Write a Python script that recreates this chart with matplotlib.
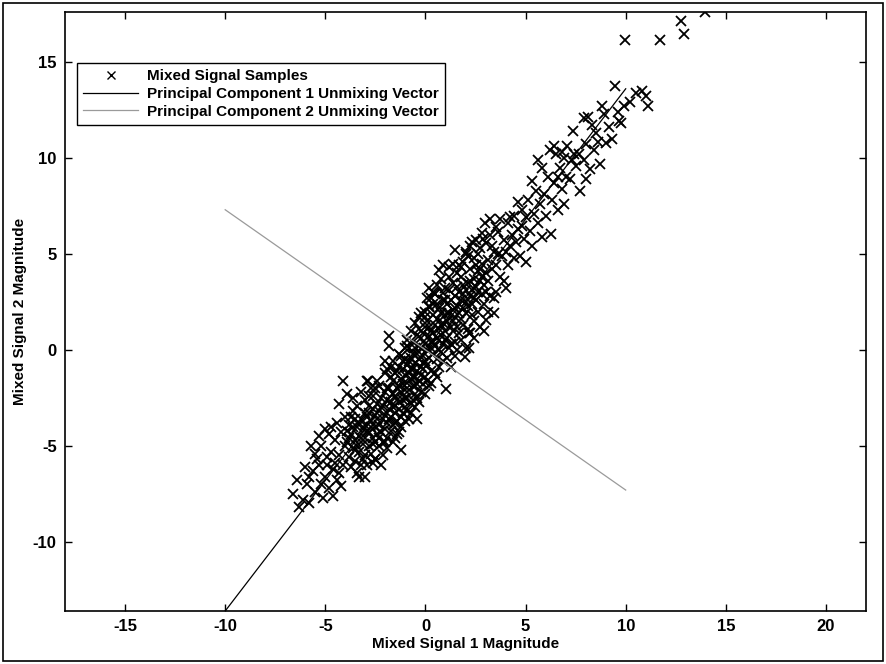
import matplotlib
matplotlib.use("Agg")
import matplotlib.pyplot as plt
from matplotlib.patches import Rectangle

plt.rcParams['font.family'] = ['Liberation Sans', 'DejaVu Sans']
plt.rcParams['axes.unicode_minus'] = False

# mixed signal samples, lower tail of the cloud
tail_pts = [
    (-6.3, -8.2), (-6.1, -7.8), (-5.8, -8.0), (-5.9, -7.0), (-6.4, -6.8), (-5.5, -7.4),
    (-5.2, -7.0), (-4.8, -7.2), (-5.0, -6.6), (-5.6, -6.3), (-5.3, -6.0), (-5.7, -5.0),
    (-5.2, -5.0), (-5.0, -4.1), (-4.9, -5.6), (-4.6, -6.2), (-4.4, -6.8), (-4.7, -5.3),
    (-4.5, -4.7), (-4.3, -5.5), (-4.1, -6.0), (-4.2, -4.3), (-4.4, -3.8), (-4.8, -4.4),
    (-5.4, -5.7), (-6.0, -6.1), (-4.6, -7.6), (-5.1, -7.7), (-4.0, -5.0), (-4.1, -1.6),
    (-4.3, -6.4), (-5.5, -5.4), (-4.9, -6.0), (-6.6, -7.5), (-4.2, -7.1), (-5.8, -6.6),
    (-4.7, -4.0), (-5.3, -4.5), (-4.5, -5.9), (-4.0, -3.5),
]

# dense centre of the cloud
core_pts = [
    (-3.9, -4.8), (-3.8, -5.6), (-3.8, -3.9), (-3.7, -4.4), (-3.7, -6.1), (-3.6, -5.1),
    (-3.6, -3.2), (-3.5, -4.7), (-3.5, -5.8), (-3.4, -4.0), (-3.4, -2.9), (-3.3, -5.3),
    (-3.3, -4.5), (-3.2, -3.6), (-3.2, -6.0), (-3.1, -4.9), (-3.1, -4.1), (-3.0, -3.3),
    (-3.0, -5.5), (-3.0, -2.6), (-3.9, -4.2), (-3.6, -4.0), (-3.4, -5.0), (-3.2, -4.6),
    (-3.5, -3.6), (-3.8, -4.6), (-3.1, -5.7), (-3.3, -3.8),
    (-2.9, -4.2), (-2.9, -3.5), (-2.8, -5.0), (-2.8, -2.9), (-2.8, -4.3), (-2.7, -3.7),
    (-2.7, -5.4), (-2.6, -4.6), (-2.6, -3.1), (-2.6, -2.4), (-2.5, -4.0), (-2.5, -5.7),
    (-2.5, -3.4), (-2.4, -4.4), (-2.4, -2.8), (-2.3, -3.9), (-2.3, -5.0), (-2.3, -3.2),
    (-2.2, -4.3), (-2.2, -2.5), (-2.1, -3.6), (-2.1, -4.8), (-2.1, -2.9), (-2.0, -3.4),
    (-2.0, -4.1), (-2.0, -2.2), (-2.9, -1.6), (-2.54, -5.7), (-2.7, -4.0), (-2.4, -3.6),
    (-2.2, -3.0), (-2.6, -4.9), (-2.8, -3.3), (-2.3, -1.9), (-2.87, -1.6),
    (-1.9, -3.8), (-1.9, -2.6), (-1.9, -4.6), (-1.8, -3.1), (-1.8, 0.7), (-1.8, 0.2),
    (-1.8, -2.0), (-1.7, -3.5), (-1.7, -4.2), (-1.7, -2.7), (-1.6, -3.0), (-1.6, -1.6),
    (-1.6, -3.9), (-1.54, -4.57), (-1.5, -2.4), (-1.5, -3.3), (-1.4, -2.0), (-1.4, -3.7),
    (-1.4, -1.1), (-1.3, -2.7), (-1.3, -3.1), (-1.3, -0.9), (-1.2, -2.2), (-1.2, -3.5),
    (-1.2, -1.5), (-1.1, -2.6), (-1.1, -1.8), (-1.1, -0.6), (-1.0, -2.1), (-1.0, -3.0),
    (-1.0, -1.3), (-1.9, -2.0), (-1.7, -1.4), (-1.5, -2.9), (-1.3, -1.9), (-1.1, -3.3),
    (-1.6, -2.3), (-1.4, -2.6), (-1.2, -0.3), (-1.0, -0.5),
    (-0.9, -1.7), (-0.9, -2.5), (-0.9, -0.8), (-0.8, -1.2), (-0.8, -2.1), (-0.8, 0.1),
    (-0.7, -1.5), (-0.7, -2.8), (-0.7, -0.4), (-0.6, -1.0), (-0.6, -1.9), (-0.6, 0.4),
    (-0.5, -0.7), (-0.5, -1.4), (-0.5, -2.3), (-0.4, -0.2), (-0.4, -1.1), (-0.4, 0.8),
    (-0.3, -0.5), (-0.3, -1.6), (-0.3, 0.2), (-0.2, -0.9), (-0.2, 0.6), (-0.2, -1.3),
    (-0.1, -0.3), (-0.1, 0.9), (-0.1, -1.0), (0.0, 0.3), (0.0, -0.6), (0.0, 1.2),
    (-0.9, 0.5), (-0.6, -0.2), (-0.4, -1.8), (-0.2, 0.1), (0.0, -1.4), (-0.7, -1.0),
    (-0.5, 0.1), (-0.3, 1.1),
    (0.1, 0.0), (0.1, -0.8), (0.1, 1.5), (0.2, 0.7), (0.2, 2.3), (0.2, -0.4),
    (0.3, 0.4), (0.3, 1.0), (0.3, -1.1), (0.4, 0.9), (0.4, -0.2), (0.4, 1.8),
    (0.5, 0.2), (0.5, 1.3), (0.5, 2.9), (0.6, 0.6), (0.6, -0.5), (0.6, 1.6),
    (0.7, 1.1), (0.7, 2.2), (0.7, 0.0), (0.8, 0.8), (0.8, 1.9), (0.86, 2.95),
    (0.9, 1.4), (0.9, 0.3), (0.9, 2.6), (1.0, 1.0), (1.03, -2.05), (1.0, 1.8),
    (0.2, 1.2), (0.4, 0.4), (0.6, 2.4), (0.8, -0.1), (1.0, 0.5), (0.3, 2.7),
    (0.66, 4.17), (0.45, 2.95), (0.2, 2.26),
    (1.1, 1.5), (1.1, 2.4), (1.1, 0.6), (1.2, 1.9), (1.2, 3.1), (1.3, 1.2),
    (1.3, 2.6), (1.3, 0.3), (1.4, 2.1), (1.4, 3.5), (1.5, 1.7), (1.5, 2.8),
    (1.5, -0.3), (1.6, 2.3), (1.6, 4.0), (1.7, 1.9), (1.7, 3.0), (1.7, 0.9),
    (1.8, 2.6), (1.8, 3.8), (1.9, 2.2), (1.9, 1.3), (2.0, 3.1), (2.0, 5.0),
    (2.0, 2.5), (2.0, 0.1), (1.99, -0.38), (1.2, 4.3), (1.4, 1.0), (1.6, 3.3),
    (1.8, 1.6), (1.9, 4.6), (2.1, 4.9), (2.0, 5.1),
    (2.1, 3.5), (2.1, 2.3), (2.2, 0.9), (2.2, 4.2), (2.2, 2.8), (2.3, 3.1),
    (2.3, 1.8), (2.4, 3.7), (2.4, 4.8), (2.5, 2.6), (2.5, 3.3), (2.6, 4.1),
    (2.6, 2.0), (2.7, 3.6), (2.7, 5.3), (2.8, 2.9), (2.8, 4.5), (2.85, 5.8),
    (2.9, 3.4), (3.0, 5.55), (3.0, 1.56), (3.0, 4.0), (2.99, 6.6), (2.3, 5.6),
    (2.5, 4.4), (2.9, 2.4), (2.6, 3.0), (2.4, 1.5), (2.19, 0.09), (2.19, 0.87),
]

# wider scatter around the centre
core_wide_pts = [
    (-3.6, -2.5), (-3.4, -6.4), (-3.2, -2.2), (-3.0, -4.6), (-2.9, -6.0), (-2.7, -2.0),
    (-2.6, -5.9), (-2.4, -1.6), (-2.3, -4.6), (-2.1, -5.5), (-2.0, -1.2), (-1.9, -5.1),
    (-1.8, -3.6), (-1.7, -0.9), (-1.6, -4.8), (-1.5, -1.2), (-1.4, -4.4), (-1.3, -0.2),
    (-1.2, -4.0), (-1.1, -1.0), (-1.0, -3.7), (-0.9, 0.2), (-0.9, -3.2), (-0.8, -0.6),
    (-0.7, -3.3), (-0.7, 1.0), (-0.6, -2.6), (-0.5, 1.4), (-0.5, -3.0), (-0.4, -2.5),
    (-0.3, 1.7), (-0.2, -2.2), (-0.2, 1.9), (-0.1, -1.8), (0.0, 2.0), (0.0, -2.3),
    (0.1, 2.7), (0.1, -1.6), (0.2, 3.2), (0.3, -1.7), (0.4, 3.0), (0.5, -1.2),
    (0.6, 3.4), (0.7, -0.9), (0.8, 3.7), (0.9, -0.6), (1.0, 3.2), (1.1, -0.4),
    (1.2, 3.8), (1.3, -0.9), (1.4, 4.5), (1.5, 0.4), (1.6, 0.0), (1.7, 4.4),
    (1.8, 0.5), (1.9, 3.4), (2.1, 1.1), (2.2, 5.4), (2.4, 0.6), (2.5, 5.7),
    (2.7, 1.2), (2.8, 6.1), (2.9, 1.0), (3.1, 2.0), (3.2, 6.8), (3.4, 1.9),
    (3.5, 6.4), (-3.7, -3.5), (-3.3, -6.6), (-2.8, -2.4), (-2.5, -2.0), (-2.2, -6.0),
    (-1.9, -1.0), (-1.6, -0.6), (-1.3, -4.3), (-1.0, 0.1), (-0.8, -3.6), (-0.5, -1.9),
    (-0.3, -2.7), (0.0, 1.7), (0.2, -1.9), (0.4, 2.4), (0.6, -1.4), (0.8, 1.3),
    (1.0, 2.6), (1.2, 0.1), (1.4, 1.5), (1.6, 1.2), (1.8, 4.3), (2.0, 1.9),
    (2.2, 3.6), (2.4, 2.7), (2.6, 5.0), (2.8, 3.8), (3.0, 3.0), (-3.5, -5.2),
    (-3.0, -3.9), (-2.5, -4.8), (-2.0, -4.8), (-1.5, -3.8), (-1.0, -2.5), (-0.6, -1.4),
    (-0.1, -0.7), (0.3, 0.1), (0.7, 0.5), (1.1, 1.9), (1.5, 2.2), (1.9, 2.9),
    (2.3, 2.4), (2.7, 4.2), (-4.3, -2.8), (-3.9, -2.3), (-3.0, -6.6), (-1.2, -5.2),
    (0.9, 4.4), (1.5, 5.2), (-0.4, -3.6), (-2.0, -0.6),
]

# sparser middle stretch
mid_pts = [
    (3.1, 3.6), (3.1, 4.7), (3.2, 2.8), (3.3, 4.2), (3.3, 5.4), (3.4, 2.7),
    (3.4, 5.1), (3.5, 3.0), (3.5, 4.4), (3.6, 6.16), (3.6, 5.0), (3.7, 3.8),
    (3.8, 4.9), (3.9, 5.7), (3.9, 3.6), (4.0, 5.1), (4.1, 6.6), (4.1, 4.4),
    (4.2, 5.4), (4.3, 6.0), (4.4, 4.8), (4.4, 7.0), (4.5, 5.6), (4.6, 6.3),
    (4.7, 4.9), (4.8, 7.3), (4.84, 6.46), (4.9, 5.8), (5.0, 4.6), (5.0, 6.9),
    (5.1, 7.8), (5.2, 6.2), (5.3, 5.4), (5.4, 7.1), (5.5, 8.3), (5.6, 6.6),
    (5.7, 7.6), (5.8, 5.9), (5.9, 8.1), (6.0, 7.0), (6.1, 9.0), (6.25, 6.04),
    (6.3, 7.8), (6.4, 8.7), (6.5, 10.2), (6.6, 7.3), (6.7, 9.5), (6.8, 8.4),
    (6.9, 10.0), (7.0, 9.0), (3.2, 6.0), (3.7, 6.8), (4.0, 3.2), (4.6, 7.7),
    (5.3, 8.8), (5.8, 9.5), (6.2, 10.4), (6.9, 7.6), (4.2, 6.9), (5.6, 9.9),
    (6.4, 10.6), (6.6, 9.0),
]

# upper arm and the far outliers
upper_pts = [
    (7.08, 10.6), (6.83, 10.3), (7.4, 10.2), (7.66, 10.2), (7.36, 11.4), (7.2, 8.9),
    (7.5, 9.6), (7.7, 8.3), (7.9, 9.9), (8.0, 10.7), (8.2, 9.4), (8.4, 10.4),
    (8.6, 10.85), (9.0, 10.8), (8.5, 11.3), (7.9, 12.1), (8.1, 12.15), (8.3, 11.7),
    (8.8, 12.7), (8.9, 12.3), (9.15, 11.6), (9.65, 11.9), (9.77, 11.8), (9.9, 12.7),
    (9.49, 13.75), (10.5, 13.4), (10.8, 13.5), (11.0, 13.2), (11.1, 12.7), (9.98, 16.15),
    (11.7, 16.15), (12.75, 17.15), (12.92, 16.46), (13.97, 17.6), (8.7, 9.7), (9.3, 11.0),
    (7.3, 9.9), (8.0, 8.9), (9.6, 12.4), (10.2, 12.9),
]

sample_pts = tail_pts + core_pts + core_wide_pts + mid_pts + upper_pts
sample_x = [p[0] for p in sample_pts]
sample_y = [p[1] for p in sample_pts]

# unmixing vectors, end points
pc1_x = [-10, 10]
pc1_y = [-13.6, 13.6]
pc2_x = [-10, 10]
pc2_y = [7.3, -7.3]

fig = plt.figure(figsize=(8.86, 6.64), dpi=100)
ax = fig.add_axes([65 / 886, 1 - 611 / 664, 801 / 886, 599 / 664])

ax.plot(sample_x, sample_y, 'x', color='black', markersize=6.5, markeredgewidth=1.3,
        label='Mixed Signal Samples')
ax.plot(pc1_x, pc1_y, '-', color='black', linewidth=0.9,
        label='Principal Component 1 Unmixing Vector')
ax.plot(pc2_x, pc2_y, '-', color='#9a9a9a', linewidth=0.9,
        label='Principal Component 2 Unmixing Vector')

ax.set_xlim(-18, 22)
ax.set_ylim(-13.6, 17.6)
ax.set_xticks([-15, -10, -5, 0, 5, 10, 15, 20])
ax.set_yticks([-10, -5, 0, 5, 10, 15])
ax.tick_params(direction='in', top=True, right=True, length=5, width=1,
               labelsize=12, pad=6)
for lab in ax.get_xticklabels() + ax.get_yticklabels():
    lab.set_fontweight('bold')
for s in ax.spines.values():
    s.set_linewidth(1.2)

ax.set_xlabel('Mixed Signal 1 Magnitude', fontsize=11, fontweight='bold', labelpad=2)
ax.set_ylabel('Mixed Signal 2 Magnitude', fontsize=11, fontweight='bold', labelpad=4)

leg = ax.legend(loc='upper left', bbox_to_anchor=(77 / 886, 1 - 63 / 664),
                bbox_transform=fig.transFigure, borderaxespad=0, fancybox=False,
                framealpha=1, edgecolor='black', handlelength=3.6, handletextpad=0.6,
                labelspacing=0.25, borderpad=0.4, markerscale=0.8,
                prop={'size': 11, 'weight': 'bold'})
leg.get_frame().set_linewidth(1.0)
for h in leg.get_lines()[:1]:
    h.set_markeredgewidth(1.0)

# thin frame around the whole figure
fig.patches.append(Rectangle((0.003, 0.004), 0.994, 0.992, transform=fig.transFigure,
                             fill=False, edgecolor='black', linewidth=1.2))

fig.savefig('out.png', dpi=100)
